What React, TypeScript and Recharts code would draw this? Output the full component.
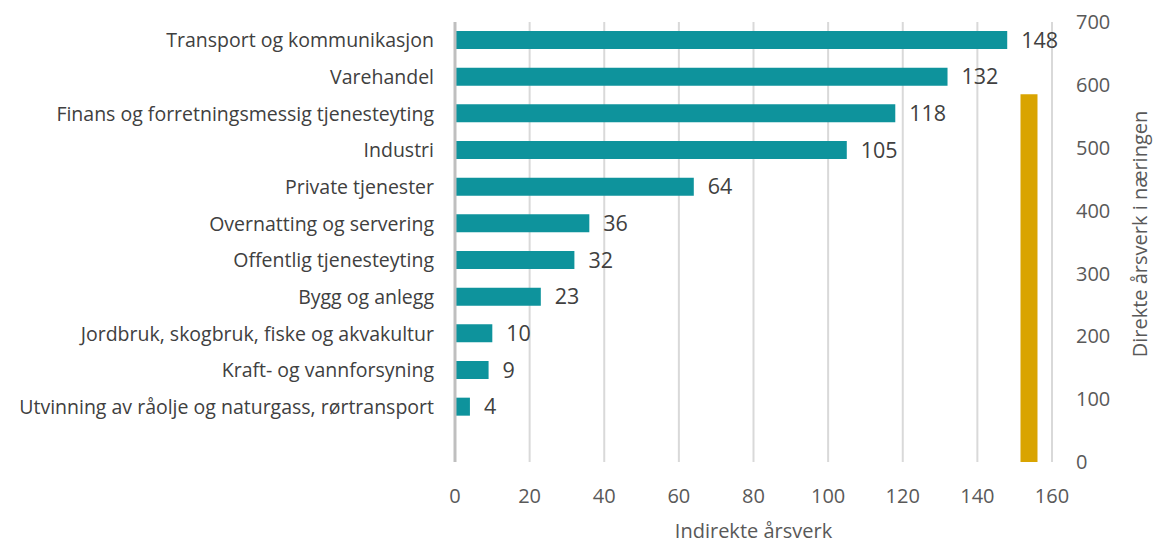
import React from 'react';
import { ComposedChart, BarChart, Bar, XAxis, YAxis, CartesianGrid, LabelList } from 'recharts';

// Indirekte årsverk per næring
const categories = [
    'Transport og kommunikasjon',
    'Varehandel',
    'Finans og forretningsmessig tjenesteyting',
    'Industri',
    'Private tjenester',
    'Overnatting og servering',
    'Offentlig tjenesteyting',
    'Bygg og anlegg',
    'Jordbruk, skogbruk, fiske og akvakultur',
    'Kraft- og vannforsyning',
    'Utvinning av råolje og naturgass, rørtransport',
    '',
];
const indirekte = [148, 132, 118, 105, 64, 36, 32, 23, 10, 9, 4, null];

// Direkte årsverk i næringen (sekundærakse)
const direkteLabel = ['Direkte årsverk'];
const direkte = [585];

const xTicks = [0, 20, 40, 60, 80, 100, 120, 140, 160];
const rightTicks = [0, 100, 200, 300, 400, 500, 600, 700];

const TEAL = '#0E939C';
const GOLD = '#D9A400';
const FONT = '"Open Sans", sans-serif';

const data = categories.map((name, i) => ({ name, value: indirekte[i] }));
// placed on the primary x scale, just left of the 160 gridline
const direkteData = direkteLabel.map((name, i) => ({ name, pos: 153.7, value: direkte[i] }));

const W = 1154;
const H = 546;

const App: React.FC = () => {
    return (
        <div style={{ position: 'absolute', left: 0, top: 0, width: W, height: H, background: '#fff', fontFamily: FONT }}>
            <div style={{ position: 'absolute', left: 0, top: 0 }}>
                <ComposedChart width={W} height={H} data={data} layout="vertical"
                    margin={{ top: 22, right: 102, bottom: 0, left: 0 }} barCategoryGap={0}>
                    <CartesianGrid horizontal={false} vertical stroke="#d9d9d9" strokeWidth={2} />
                    <XAxis
                        type="number"
                        domain={[0, 160]}
                        ticks={xTicks}
                        axisLine={false}
                        tickLine={false}
                        tickSize={0}
                        tickMargin={27}
                        height={84}
                        tick={{ fill: '#595959', fontSize: 20, fontFamily: FONT }}
                        label={{ value: 'Indirekte årsverk', position: 'insideBottom', offset: 8, fill: '#595959', fontSize: 20, fontFamily: FONT }}
                    />
                    <YAxis
                        type="category"
                        dataKey="name"
                        width={455}
                        axisLine={{ stroke: '#bfbfbf', strokeWidth: 3 }}
                        tickLine={false}
                        tickSize={0}
                        tickMargin={21}
                        interval={0}
                        tick={{ fill: '#404040', fontSize: 19.5, fontFamily: FONT }}
                    />
                    <Bar dataKey="value" fill={TEAL} barSize={18} isAnimationActive={false}>
                        <LabelList dataKey="value" position="right" offset={14} fill="#404040" fontSize={21.5} fontFamily={FONT} />
                    </Bar>
                </ComposedChart>
            </div>
            <div style={{ position: 'absolute', left: 0, top: 0 }}>
                <BarChart width={W} height={H} data={direkteData} margin={{ top: 22, right: 0, bottom: 84, left: 455 }}>
                    <XAxis dataKey="pos" type="number" domain={[0, 160]} hide />
                    <YAxis
                        yAxisId="right"
                        type="number"
                        orientation="right"
                        domain={[0, 700]}
                        ticks={rightTicks}
                        width={102}
                        axisLine={false}
                        tickLine={false}
                        tickSize={0}
                        tickMargin={24}
                        tick={{ fill: '#595959', fontSize: 20, fontFamily: FONT }}
                        label={{ value: 'Direkte årsverk i næringen', angle: -90, position: 'insideRight', offset: 14, dy: -8, fill: '#595959', fontSize: 20, fontFamily: FONT, style: { textAnchor: 'middle' } }}
                    />
                    <Bar yAxisId="right" dataKey="value" fill={GOLD} barSize={17} isAnimationActive={false} />
                </BarChart>
            </div>
        </div>
    );
};

export default App;
